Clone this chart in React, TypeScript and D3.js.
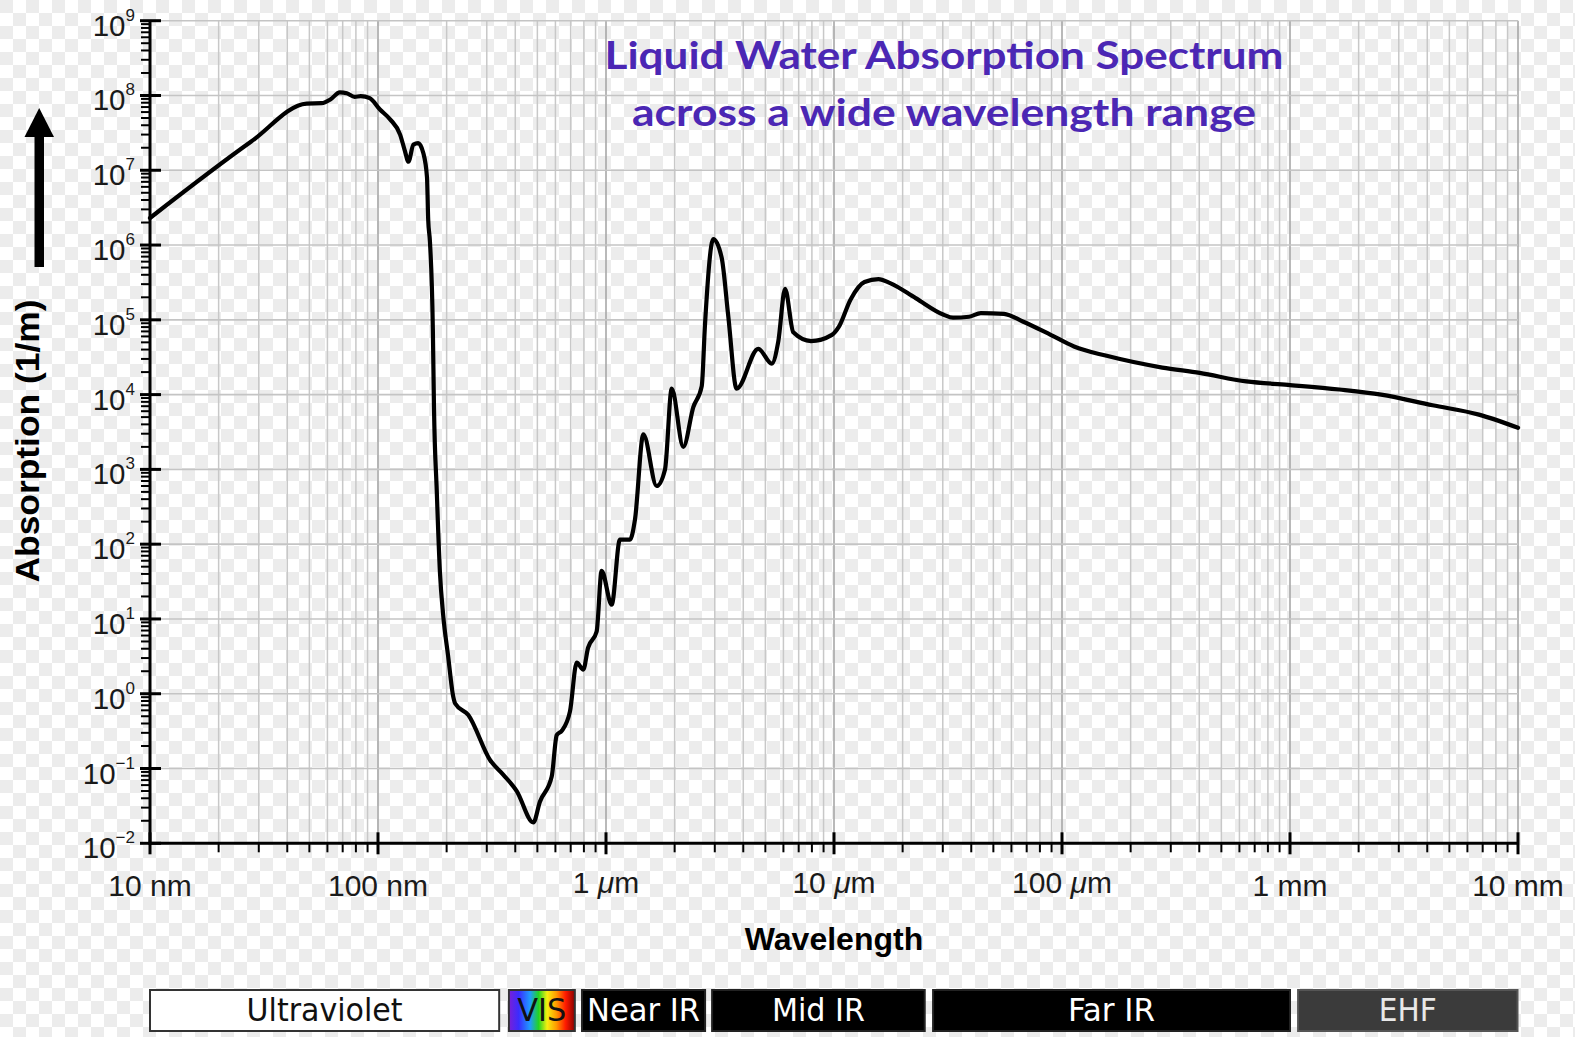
import React from 'react';
import * as d3 from 'd3';

// ---- Data ----
const wavelengthNm = [
  10, 27.7, 48.7, 56.6, 62, 68, 73, 79, 84, 92, 102, 113, 125, 131, 136, 143, 150, 158, 164, 166,
  169, 174, 176, 181, 187, 193, 203, 214, 218, 249, 310, 354, 406, 480, 513, 578, 608, 640, 695,
  744, 795, 834, 910, 957, 1059, 1151, 1274, 1340, 1458, 1668, 1815, 1942, 2183, 2415, 2630, 2718,
  2955, 3215, 3438, 3741, 4655, 5330, 5700, 6100, 6630, 7925, 9795, 10510, 11810, 13610, 15670,
  17620, 22810, 30260, 33270, 39170, 44060, 55650, 67300, 89170, 112900, 157000, 275400, 401800,
  642700, 979500, 1.647e6, 2.51e6, 4.22e6, 6.74e6, 1.0e7,
];
const absorptionPerM = [
  2.3e6, 2.4e7, 7.8e7, 7.9e7, 8.9e7, 1.1e8, 1.07e8, 9.6e7, 9.8e7, 9.2e7, 6.5e7, 4.8e7, 3.0e7, 1.85e7, 1.3e7, 2.2e7, 2.3e7, 1.7e7, 8.1e6, 2.2e6,
  1.1e6, 7.6e4, 6.8e3, 5.2e2, 41, 11.5, 3.2, 0.9, 0.74, 0.52, 0.13, 0.083, 0.05, 0.019, 0.036, 0.078, 0.28, 0.32, 0.58,
  2.6, 2.1, 4.1, 6.8, 44, 15.5, 115, 115, 214, 2950, 600, 1000, 1.2e4, 2000, 6800, 1.3e4, 8.7e4,
  1.2e6, 6.8e5, 1.12e5, 1.2e4, 4.1e4, 2.6e4, 5.2e4, 2.6e5, 6.8e4, 5.2e4, 6.3e4, 8.1e4, 1.86e5, 3.2e5, 3.5e5,
  3.1e5, 1.95e5, 1.17e5, 1.07e5, 1.1e5, 1.23e5, 1.2e5, 9.5e4, 6.3e4, 4.4e4, 3.3e4, 2.3e4, 1.95e4,
  1.5e4, 1.35e4, 1.17e4, 1.0e4, 7.2e3, 5.4e3, 3.6e3,
];

const xTickValues = [10, 100, 1e3, 1e4, 1e5, 1e6, 1e7];
const xTickNumbers = ['10', '100', '1', '10', '100', '1', '10'];
const xTickUnits = ['nm', 'nm', 'μm', 'μm', 'μm', 'mm', 'mm'];
const yTickExponents = [-2, -1, 0, 1, 2, 3, 4, 5, 6, 7, 8, 9];

const bandNames = ['Ultraviolet', 'VIS', 'Near IR', 'Mid IR', 'Far IR', 'EHF'];
const bandStartNm = [10, 375, 785, 2920, 27200, 1.085e6];
const bandEndNm = [340, 730, 2720, 25000, 1.0e6, 9.95e6];

const titleLines = ['Liquid Water Absorption Spectrum', 'across a wide wavelength range'];

// ---- Layout / style ----
const W = 1575;
const H = 1037;
const X0 = 150;
const X1 = 1518;
const YTOP = 20.7;
const YBOT = 843.3;
const bandFill = ['#ffffff', 'url(#visGrad)', '#000000', '#000000', '#000000', '#3b3b3b'];
const bandStroke = ['#333333', '#333333', '#222222', '#222222', '#222222', '#555555'];
const bandText = ['#111111', '#111111', '#ffffff', '#ffffff', '#ffffff', '#e8e8e8'];
const bandTextLen = [156, 49, 113, 93, 87, 58];

export default function App() {
  const x = d3.scaleLog().domain([10, 1e7]).range([X0, X1]);
  const y = d3.scaleLog().domain([1e-2, 1e9]).range([YBOT, YTOP]);

  const idx = d3.range(wavelengthNm.length);
  const line = d3
    .line<number>()
    .x((i) => x(wavelengthNm[i]))
    .y((i) => y(absorptionPerM[i]))
    .curve(d3.curveMonotoneX);

  const minorX: number[] = [];
  for (let k = 1; k < 7; k++) {
    for (let m = 2; m <= 9; m++) minorX.push(m * Math.pow(10, k));
  }
  const minorY: number[] = [];
  for (let k = -2; k < 9; k++) {
    for (let m = 2; m <= 9; m++) minorY.push(m * Math.pow(10, k));
  }

  const font = "'Liberation Sans', Arial, Helvetica, sans-serif";
  const bandFont = "'DejaVu Sans Condensed', 'DejaVu Sans', sans-serif";

  return (
    <svg
      width={W}
      height={H}
      style={{ position: 'absolute', left: 0, top: 0, display: 'block' }}
      xmlns="http://www.w3.org/2000/svg"
    >
      <defs>
        <pattern id="checker" width={26} height={26} patternUnits="userSpaceOnUse">
          <rect width={26} height={26} fill="#ffffff" />
          <rect width={13} height={13} fill="#ececec" />
          <rect x={13} y={13} width={13} height={13} fill="#ececec" />
        </pattern>
        <linearGradient id="visGrad" x1="0" x2="1" y1="0" y2="0">
          <stop offset="0%" stopColor="#7a1fd6" />
          <stop offset="15%" stopColor="#3a2cff" />
          <stop offset="32%" stopColor="#1f9bff" />
          <stop offset="45%" stopColor="#22d422" />
          <stop offset="58%" stopColor="#f5ef10" />
          <stop offset="72%" stopColor="#ff9a00" />
          <stop offset="86%" stopColor="#ff1a00" />
          <stop offset="100%" stopColor="#8a0000" />
        </linearGradient>
      </defs>

      <rect x={0} y={0} width={W} height={H} fill="url(#checker)" />

      {/* vertical grid */}
      {minorX.map((v, i) => (
        <line key={'gx' + i} x1={x(v)} x2={x(v)} y1={YTOP} y2={YBOT} stroke="#c8c8c8" strokeWidth={1.5} />
      ))}
      {xTickValues.map((v, i) => (
        <line key={'gX' + i} x1={x(v)} x2={x(v)} y1={YTOP} y2={YBOT} stroke="#a8a8a8" strokeWidth={1.6} />
      ))}
      {/* horizontal grid */}
      {yTickExponents.map((e, i) => (
        <line key={'gy' + i} x1={X0} x2={X1} y1={y(Math.pow(10, e))} y2={y(Math.pow(10, e))} stroke="#c4c4c4" strokeWidth={1.6} />
      ))}

      {/* curve */}
      <path d={line(idx) || ''} fill="none" stroke="#000" strokeWidth={4.2} strokeLinejoin="round" strokeLinecap="round" />

      {/* axes */}
      <line x1={X0} x2={X0} y1={YTOP} y2={YBOT + 1.5} stroke="#000" strokeWidth={3} />
      <line x1={X0 - 1.5} x2={X1} y1={YBOT} y2={YBOT} stroke="#000" strokeWidth={3} />

      {minorY.map((v, i) => (
        <line key={'ty' + i} x1={X0 - 9} x2={X0} y1={y(v)} y2={y(v)} stroke="#000" strokeWidth={2} />
      ))}
      {yTickExponents.map((e, i) => (
        <line key={'tY' + i} x1={X0 - 10} x2={X0 + 11} y1={y(Math.pow(10, e))} y2={y(Math.pow(10, e))} stroke="#000" strokeWidth={3} />
      ))}
      {minorX.map((v, i) => (
        <line key={'tx' + i} x1={x(v)} x2={x(v)} y1={YBOT} y2={YBOT + 9} stroke="#000" strokeWidth={2} />
      ))}
      {xTickValues.map((v, i) => (
        <line key={'tX' + i} x1={x(v)} x2={x(v)} y1={YBOT - 11} y2={YBOT + 11} stroke="#000" strokeWidth={3} />
      ))}

      {/* y tick labels */}
      {yTickExponents.map((e, i) => (
        <text
          key={'ly' + i}
          x={135}
          y={y(Math.pow(10, e)) + 15}
          textAnchor="end"
          fontFamily={font}
          fontSize={29.5}
          fill="#1a1a1a"
        >
          <tspan>10</tspan>
          <tspan dy={-15} fontSize={17}>
            {e < 0 ? '\u2212' + Math.abs(e) : String(e)}
          </tspan>
        </text>
      ))}

      {/* x tick labels */}
      {xTickValues.map((v, i) => (
        <text
          key={'lx' + i}
          x={x(v)}
          y={xTickUnits[i] === 'μm' ? 893 : 896}
          textAnchor="middle"
          fontFamily={font}
          fontSize={30}
          fill="#1a1a1a"
        >
          {xTickNumbers[i] + ' '}
          {xTickUnits[i] === 'μm' ? (
            <>
              <tspan fontStyle="italic">μ</tspan>
              <tspan>m</tspan>
            </>
          ) : (
            <tspan>{xTickUnits[i]}</tspan>
          )}
        </text>
      ))}

      {/* axis titles */}
      <text x={834} y={950} textAnchor="middle" fontFamily={font} fontWeight="bold" fontSize={32} fill="#000">
        Wavelength
      </text>
      <text
        transform="translate(39,441) rotate(-90)"
        textAnchor="middle"
        fontFamily={font}
        fontWeight="bold"
        fontSize={34}
        textLength={283}
        lengthAdjust="spacingAndGlyphs"
        fill="#000"
      >
        Absorption (1/m)
      </text>

      {/* arrow */}
      <rect x={34.5} y={132} width={9.5} height={135} fill="#000" />
      <polygon points="39.2,108 24.5,137 54,137" fill="#000" />

      {/* title */}
      <text
        x={944}
        y={69}
        textAnchor="middle"
        fontFamily="Lato, 'Open Sans', sans-serif"
        fontWeight="bold"
        fontSize={38}
        textLength={679}
        lengthAdjust="spacingAndGlyphs"
        fill="#4b27b4"
      >
        {titleLines[0]}
      </text>
      <text
        x={944}
        y={126}
        textAnchor="middle"
        fontFamily="Lato, 'Open Sans', sans-serif"
        fontWeight="bold"
        fontSize={38}
        textLength={624}
        lengthAdjust="spacingAndGlyphs"
        fill="#4b27b4"
      >
        {titleLines[1]}
      </text>

      {/* spectrum bands */}
      {bandNames.map((name, i) => {
        const bx0 = x(bandStartNm[i]);
        const bx1 = x(bandEndNm[i]);
        return (
          <g key={'band' + i}>
            <rect x={bx0} y={990} width={bx1 - bx0} height={41} fill={bandFill[i]} stroke={bandStroke[i]} strokeWidth={2} />
            <text
              x={(bx0 + bx1) / 2}
              y={1021}
              textAnchor="middle"
              fontFamily={bandFont}
              fontSize={32}
              textLength={bandTextLen[i]}
              lengthAdjust="spacingAndGlyphs"
              fill={bandText[i]}
            >
              {name}
            </text>
          </g>
        );
      })}
    </svg>
  );
}
